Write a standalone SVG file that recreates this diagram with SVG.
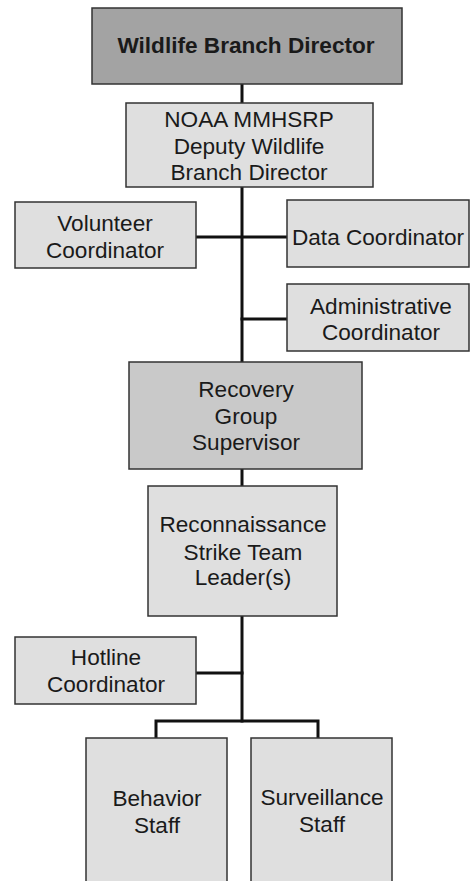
<svg xmlns="http://www.w3.org/2000/svg" width="471" height="881" viewBox="0 0 471 881">
  <style>
    .box { stroke: #333333; stroke-width: 1.5; }
    .dark { fill: #a3a3a3; }
    .mid { fill: #c9c9c9; }
    .light { fill: #dfdfdf; }
    text { font-family: "Liberation Sans", Arial, sans-serif; font-size: 22.6px; fill: #1a1a1a; text-anchor: middle; }
    .bold { font-weight: bold; }
    .wire { stroke: #111111; stroke-width: 3; fill: none; stroke-linecap: square; }
  </style>
  <rect width="471" height="881" fill="#ffffff"/>

  <!-- connectors -->
  <g id="connectors">
    <path class="wire" d="M242 84 V362"/>
    <path class="wire" d="M196 237 H287"/>
    <path class="wire" d="M242 319 H287"/>
    <path class="wire" d="M242 469 V486"/>
    <path class="wire" d="M242 616 V721"/>
    <path class="wire" d="M196 673 H242"/>
    <path class="wire" d="M156 738 V721 H318 V738"/>
  </g>

  <g id="director">
    <rect class="box dark" x="92" y="8" width="310" height="76"/>
    <text class="bold" x="246" y="53">Wildlife Branch Director</text>
  </g>

  <g id="deputy">
    <rect class="box light" x="126" y="103" width="247" height="84"/>
    <text x="249" y="127">NOAA MMHSRP</text>
    <text x="249" y="154">Deputy Wildlife</text>
    <text x="249" y="180">Branch Director</text>
  </g>

  <g id="volunteer">
    <rect class="box light" x="15" y="202" width="181" height="66"/>
    <text x="105" y="231">Volunteer</text>
    <text x="105" y="258">Coordinator</text>
  </g>

  <g id="data">
    <rect class="box light" x="287" y="200" width="182" height="67"/>
    <text x="378" y="245">Data Coordinator</text>
  </g>

  <g id="admin">
    <rect class="box light" x="287" y="284" width="182" height="67"/>
    <text x="381" y="314">Administrative</text>
    <text x="381" y="340">Coordinator</text>
  </g>

  <g id="recovery">
    <rect class="box mid" x="129" y="362" width="233" height="107"/>
    <text x="246" y="397">Recovery</text>
    <text x="246" y="424">Group</text>
    <text x="246" y="450">Supervisor</text>
  </g>

  <g id="recon">
    <rect class="box light" x="148" y="486" width="189" height="130"/>
    <text x="243" y="532">Reconnaissance</text>
    <text x="243" y="560">Strike Team</text>
    <text x="243" y="585">Leader(s)</text>
  </g>

  <g id="hotline">
    <rect class="box light" x="15" y="637" width="181" height="67"/>
    <text x="106" y="665">Hotline</text>
    <text x="106" y="692">Coordinator</text>
  </g>

  <g id="behavior">
    <rect class="box light" x="86" y="738" width="141" height="160"/>
    <text x="157" y="806">Behavior</text>
    <text x="157" y="833">Staff</text>
  </g>

  <g id="surveillance">
    <rect class="box light" x="251" y="738" width="141" height="160"/>
    <text x="322" y="805">Surveillance</text>
    <text x="322" y="832">Staff</text>
  </g>
</svg>
